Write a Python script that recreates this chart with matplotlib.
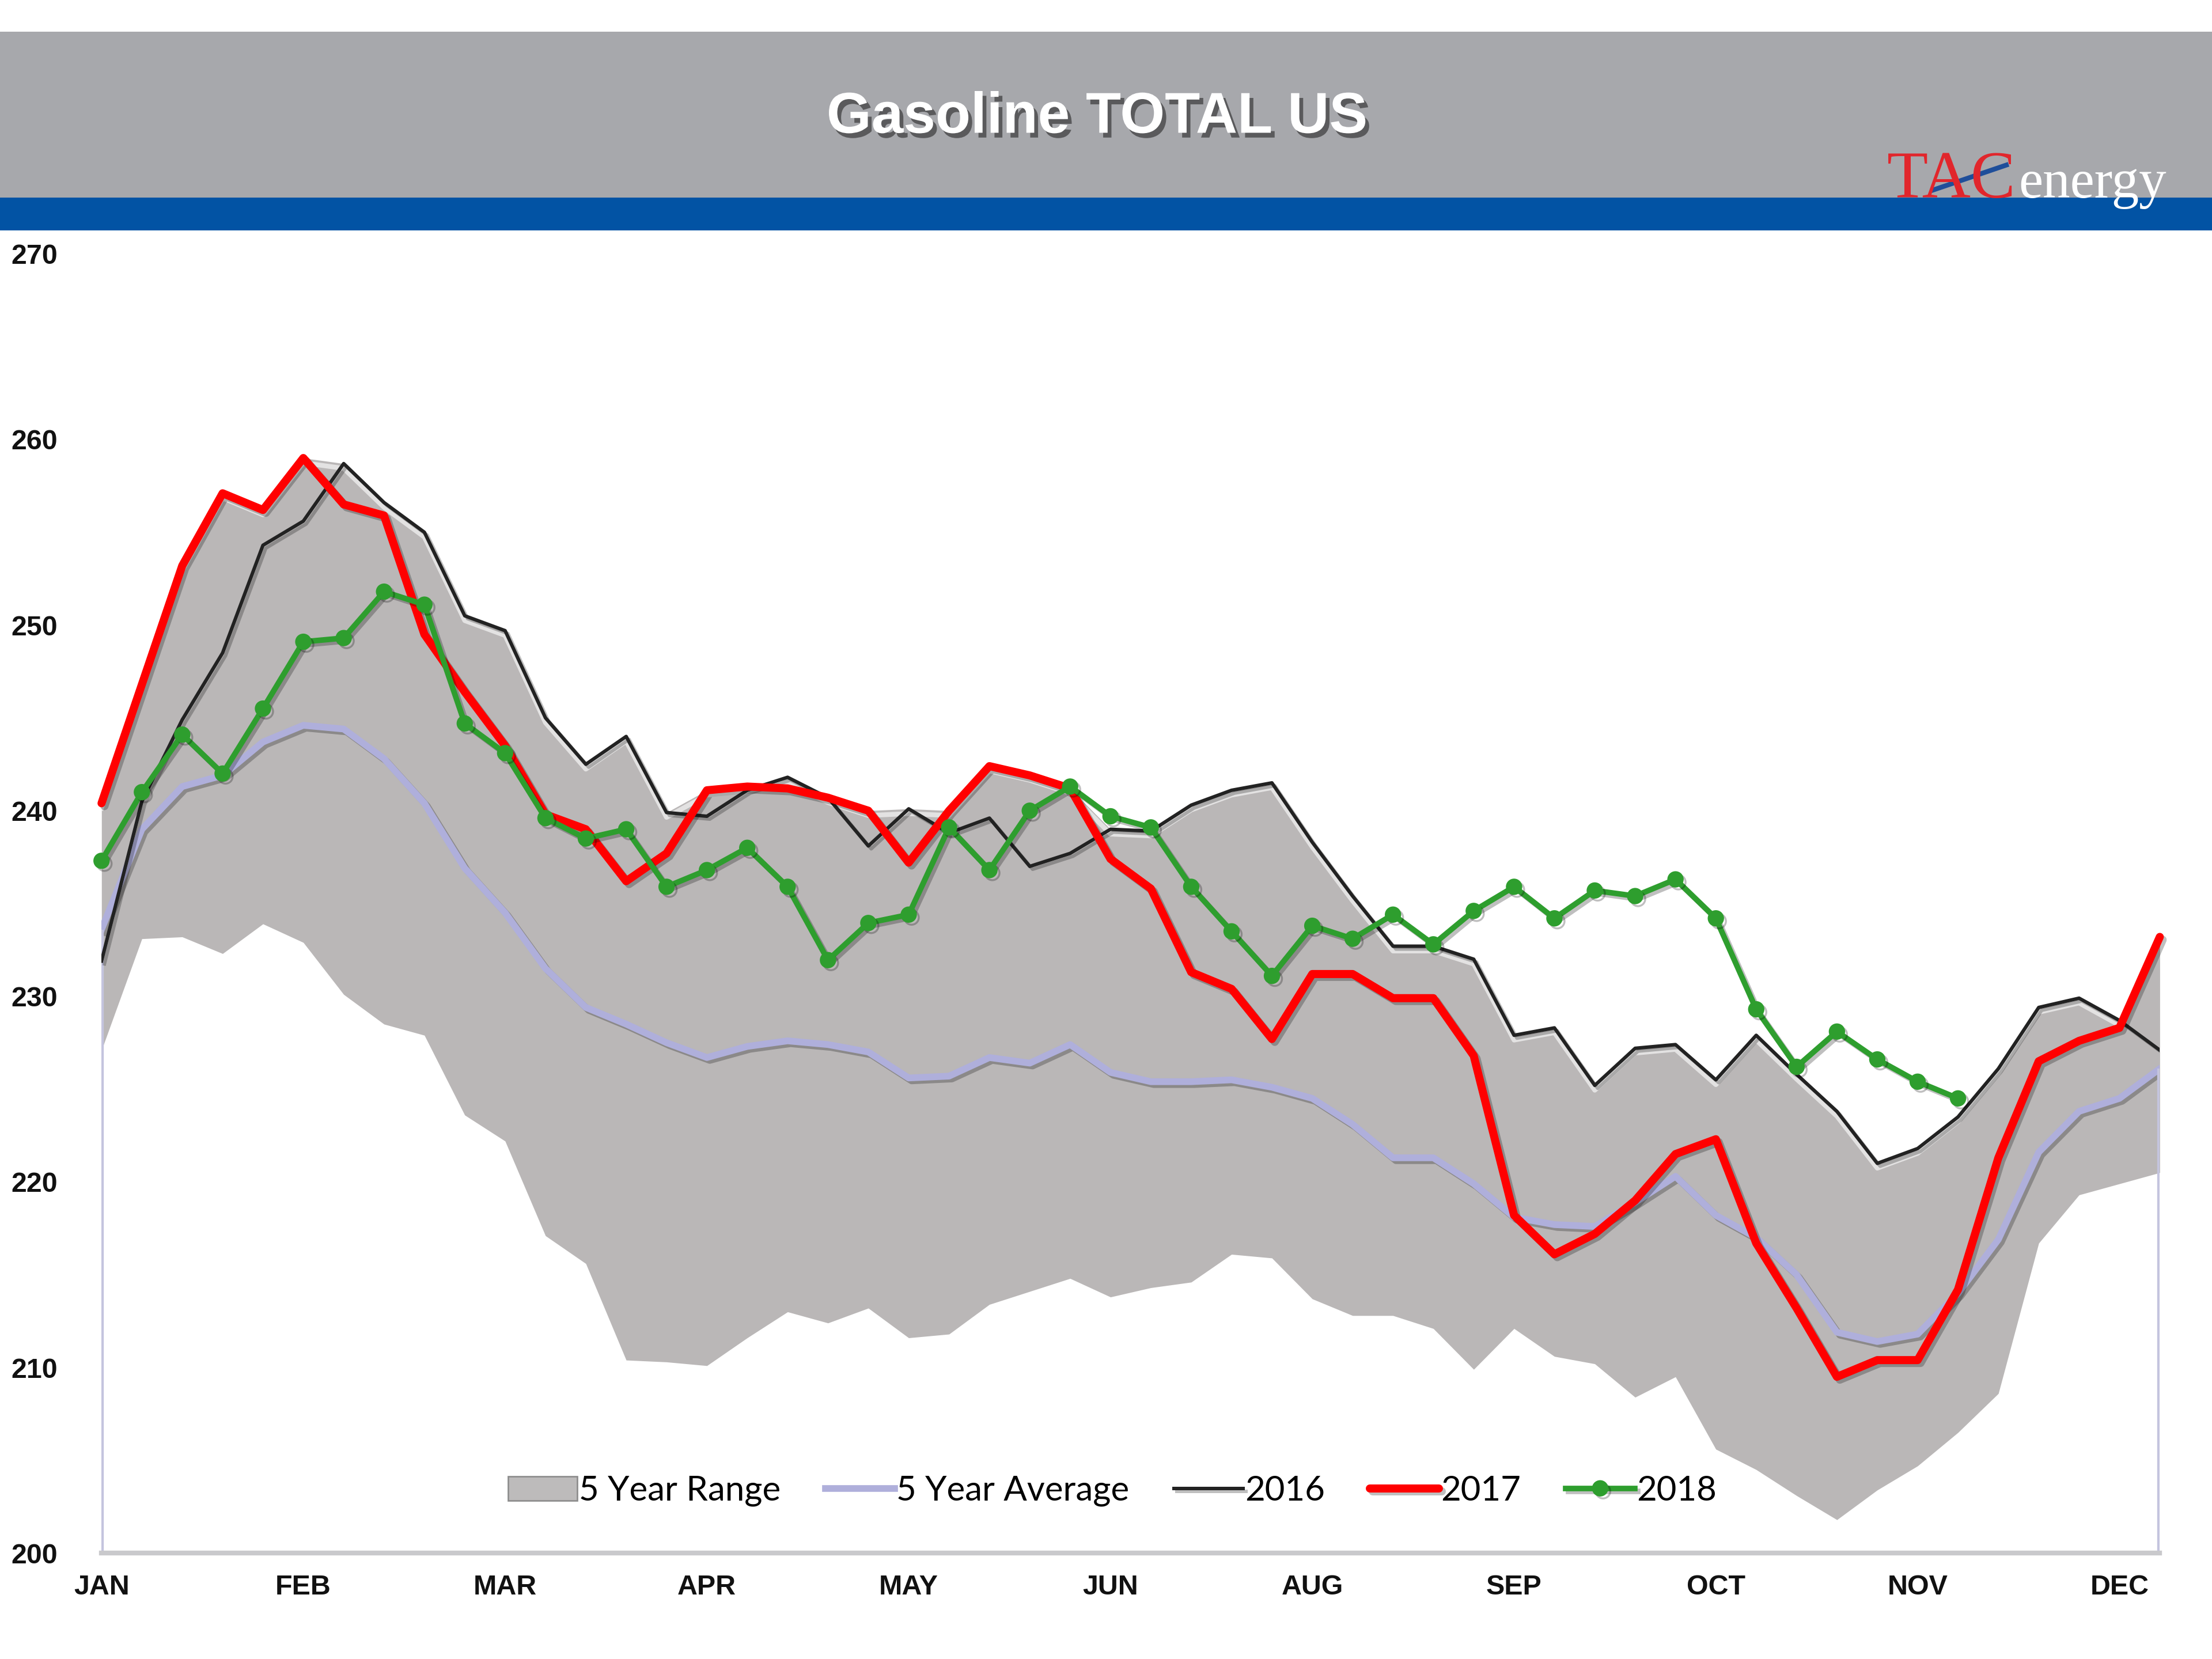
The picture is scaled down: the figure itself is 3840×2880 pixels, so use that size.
import matplotlib
matplotlib.use('Agg')
import matplotlib.pyplot as plt
import matplotlib.patheffects as pe
from matplotlib.patches import Patch, Rectangle
from matplotlib.lines import Line2D
import numpy as np

# weekly data, week 0 .. 51
months = ['JAN', 'FEB', 'MAR', 'APR', 'MAY', 'JUN', 'AUG', 'SEP', 'OCT', 'NOV', 'DEC']
month_ticks = list(range(0, 51, 5))

range_lo = [227.1, 233.1, 233.2, 232.3, 233.9, 232.9, 230.1, 228.5, 227.9, 223.6,
            222.2, 217.1, 215.6, 210.4, 210.3, 210.1, 211.6, 213.0, 212.4, 213.2,
            211.6, 211.8, 213.4, 214.1, 214.8, 213.8, 214.3, 214.6, 216.1, 215.9,
            213.7, 212.8, 212.8, 212.1, 209.9, 212.1, 210.6, 210.2, 208.4, 209.5,
            205.6, 204.5, 203.1, 201.8, 203.4, 204.7, 206.5, 208.6, 216.7, 219.3,
            219.9, 220.5]
range_hi = [240.4, 246.8, 253.2, 257.1, 256.2, 259.0, 258.7, 256.6, 255.0, 250.5,
            249.7, 245.0, 242.5, 244.0, 239.9, 241.1, 241.3, 241.8, 240.7, 240.0,
            240.1, 240.0, 242.4, 241.9, 241.2, 239.0, 238.9, 240.3, 241.1, 241.5,
            238.3, 235.4, 232.7, 232.7, 232.0, 227.9, 228.3, 225.2, 227.2, 227.4,
            225.5, 227.9, 225.8, 223.8, 221.0, 221.8, 223.5, 226.1, 229.4, 229.9,
            228.7, 233.2]
avg5 = [233.6, 239.0, 241.3, 241.9, 243.7, 244.6, 244.4, 242.8, 240.4, 236.9,
        234.5, 231.5, 229.4, 228.5, 227.5, 226.7, 227.3, 227.6, 227.4, 227.0,
        225.6, 225.7, 226.7, 226.4, 227.4, 225.9, 225.4, 225.4, 225.5, 225.1,
        224.5, 223.1, 221.3, 221.3, 219.9, 218.1, 217.7, 217.6, 218.9, 220.3,
        218.2, 217.0, 215.0, 211.9, 211.4, 211.8, 214.0, 216.9, 221.6, 223.8,
        224.5, 226.1]
y2016 = [231.9, 240.5, 244.9, 248.5, 254.3, 255.6, 258.7, 256.6, 255.0, 250.5,
         249.7, 245.0, 242.5, 244.0, 239.9, 239.7, 241.1, 241.8, 240.7, 238.1,
         240.1, 238.8, 239.6, 237.0, 237.7, 239.0, 238.9, 240.3, 241.1, 241.5,
         238.3, 235.4, 232.7, 232.7, 232.0, 227.9, 228.3, 225.2, 227.2, 227.4,
         225.5, 227.9, 225.8, 223.8, 221.0, 221.8, 223.5, 226.1, 229.4, 229.9,
         228.7, 227.1]
y2017 = [240.4, 246.8, 253.2, 257.1, 256.2, 259.0, 256.5, 255.9, 249.5, 246.4,
         243.5, 239.8, 239.0, 236.2, 237.7, 241.1, 241.3, 241.2, 240.7, 240.0,
         237.2, 240.0, 242.4, 241.9, 241.2, 237.4, 235.8, 231.3, 230.4, 227.7,
         231.2, 231.2, 229.9, 229.9, 226.8, 218.2, 216.1, 217.2, 219.0, 221.5,
         222.3, 216.7, 213.2, 209.5, 210.4, 210.4, 214.2, 221.3, 226.5, 227.6,
         228.3, 233.2]
y2018 = [237.3, 241.0, 244.1, 242.0, 245.5, 249.1, 249.3, 251.8, 251.1, 244.7,
         243.1, 239.6, 238.5, 239.0, 235.9, 236.8, 238.0, 235.9, 231.95, 233.95,
         234.4, 239.1, 236.8, 240.0, 241.3, 239.7, 239.1, 235.9, 233.5, 231.1,
         233.8, 233.1, 234.4, 232.8, 234.6, 235.9, 234.2, 235.7, 235.4, 236.3,
         234.2, 229.3, 226.2, 228.1, 226.6, 225.4, 224.5]

weeks = np.arange(len(range_lo))
weeks18 = np.arange(len(y2018))

fig = plt.figure(figsize=(16, 12), dpi=240)
fig.patch.set_facecolor('white')

# header bands
fig.patches.append(Rectangle((0, 0.880), 1, 0.101, transform=fig.transFigure,
                             facecolor='#A7A8AC', edgecolor='none', zorder=0))
fig.patches.append(Rectangle((0, 0.861), 1, 0.020, transform=fig.transFigure,
                             facecolor='#0253A4', edgecolor='none', zorder=0))

fig.text(0.496, 0.929, 'Gasoline TOTAL US', ha='center', va='center',
         fontsize=30, fontweight='bold', color='white', family='Liberation Sans',
         path_effects=[pe.withSimplePatchShadow(offset=(2, -2.5), shadow_rgbFace='#3a3a3a', alpha=0.7)])

# logo
fig.text(0.853, 0.881, 'TAC', ha='left', va='baseline', fontsize=35,
         color='#E1262C', family='Liberation Serif')
fig.text(0.9125, 0.881, 'energy', ha='left', va='baseline', fontsize=28.5,
         color='white', family='Liberation Serif')
fig.add_artist(Line2D([0.874, 0.907], [0.8855, 0.9005], transform=fig.transFigure,
                      color='#1F4E9A', lw=2.5))

ax = fig.add_axes([0.0459, 0.0638, 0.9305, 0.7832])

ax.fill_between(weeks, range_lo, range_hi, color='#BAB7B7', lw=0, zorder=1)
ax.plot(weeks, range_hi, color='white', lw=2, alpha=0.8, zorder=1.5,
        path_effects=[pe.Stroke(offset=(0, -2.5), linewidth=2.5, foreground='white', alpha=0.6)])

shadow = [pe.SimpleLineShadow(offset=(1.5, -1.5), alpha=0.25), pe.Normal()]

ax.plot(weeks, avg5, color='#AFAFDB', lw=3.5, zorder=2, path_effects=shadow)
ax.vlines([weeks[0], weeks[-1]], 200, [avg5[0], avg5[-1]], color='#C4C4DE', lw=2.5, zorder=2)
l16, = ax.plot(weeks, y2016, color='#222222', lw=1.8, zorder=3, path_effects=shadow)
l17, = ax.plot(weeks, y2017, color='#FF0000', lw=4.2, zorder=4, path_effects=shadow,
               solid_capstyle='round', clip_on=False)
l18, = ax.plot(weeks18, y2018, color='#2E9E2E', lw=2.9, marker='o', ms=7.5, zorder=5,
               path_effects=shadow, clip_on=False)

ax.set_xlim(0, 51)
ax.set_ylim(200, 270)
ax.set_yticks(range(200, 271, 10))
ax.set_xticks(month_ticks)
ax.set_xticklabels(months)

for s in ['top', 'right', 'left']:
    ax.spines[s].set_visible(False)
ax.spines['bottom'].set_color('#C9C9CC')
ax.spines['bottom'].set_linewidth(2.5)

ax.tick_params(axis='both', length=0, labelsize=14.5, labelcolor='#111111')
ax.tick_params(axis='y', pad=47)
ax.tick_params(axis='x', pad=11)
for t in ax.get_yticklabels():
    t.set_ha('left')
    t.set_fontweight('bold')
    t.set_family('Liberation Sans')
for t in ax.get_xticklabels():
    t.set_fontweight('bold')
    t.set_family('Liberation Sans')

h_range = Patch(facecolor='#BDBBBB', edgecolor='#8C8C8C', linewidth=0.8)
h_avg = Line2D([], [], color='#AFAFDB', lw=3.5)
leg = ax.legend([h_range, h_avg, l16, l17, l18],
                ['5 Year Range', '5 Year Average', '2016', '2017', '2018'],
                loc='center', bbox_to_anchor=(0.491, 0.048), ncol=5, frameon=False,
                prop={'family': 'Lato', 'size': 18}, handlelength=2.0,
                handletextpad=0.05, columnspacing=1.3)

fig.savefig('out.png', dpi=240, facecolor='white')
